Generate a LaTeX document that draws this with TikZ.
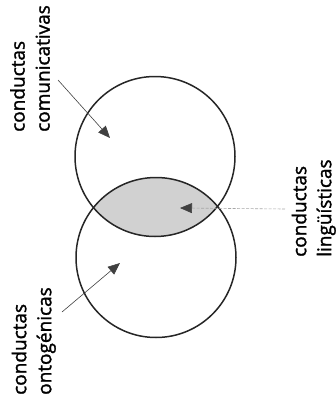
\documentclass[tikz,border=0pt]{standalone}
\usepackage{fontspec}
\newfontfamily\lblfont{Open Sans}[FakeBold=1.5]
\usetikzlibrary{arrows.meta}
\begin{document}
\begin{tikzpicture}[x=1pt,y=-1pt,
  lbl/.style={rotate=90,align=left,inner sep=0pt,anchor=south west,
    font=\lblfont\fontsize{19}{25}\selectfont,text=black},
  ring/.style={draw=black!85,line width=1.5pt},
  pointer/.style={draw=black!75,line width=0.6pt,
    -{Triangle[length=12pt,width=10pt]}},
  faint/.style={draw=black!35,line width=0.6pt,dash pattern=on 3pt off 1.5pt,
    -{Triangle[length=12pt,width=10pt,color=black!75,fill=black!75]}}]
\useasboundingbox (0,0) rectangle (336,402);
% lens
\begin{scope}
  \clip (155,156.5) circle (80);
  \fill[black!18] (156,257.5) circle (80);
\end{scope}
\draw[ring] (155,156.5) circle (80);
\draw[ring] (156,257.5) circle (80);
% labels
\node[lbl] (com) at (50,132) {conductas\\comunicativas};
\node[lbl] (ont) at (56,395) {conductas\\ontogénicas};
\node[lbl] (lin) at (336,257) {conductas\\lingüísticas};
% arrow ends
\coordinate (comS) at (58,80);
\coordinate (comT) at (110,138);
\coordinate (ontS) at (62,312);
\coordinate (ontT) at (120,263);
\coordinate (linS) at (285,209);
\coordinate (linT) at (180,208);
\draw[pointer] (comS) -- (comT);
\draw[pointer] (ontS) -- (ontT);
\draw[faint] (linS) -- (linT);
\end{tikzpicture}
\end{document}
